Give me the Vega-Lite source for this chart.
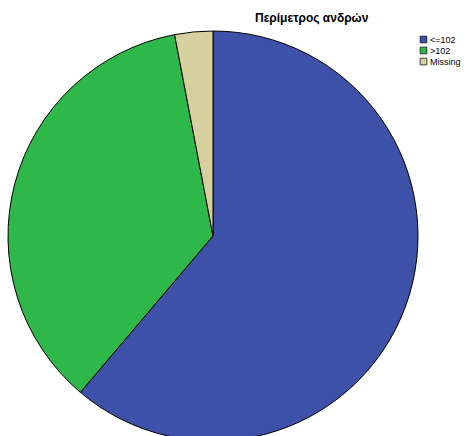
{
  "$schema": "https://vega.github.io/schema/vega-lite/v6.json",
  "autosize": "none",
  "padding": {"top": 30, "left": 0, "right": 38, "bottom": 0},
  "width": 426,
  "height": 412,
  "background": "white",
  "title": {
    "text": "Περίμετρος ανδρών",
    "anchor": "start",
    "frame": "group",
    "dx": 255,
    "offset": 4,
    "font": "Liberation Sans",
    "fontSize": 12,
    "fontWeight": "bold",
    "color": "#000000"
  },
  "data": {
    "values": [
      {"category": "<=102", "percent": 61.2, "order": 1},
      {"category": ">102", "percent": 35.8, "order": 2},
      {"category": "Missing", "percent": 3.0, "order": 3}
    ]
  },
  "mark": {"type": "arc", "radius": 205, "stroke": "#000000", "strokeWidth": 1},
  "encoding": {
    "theta": {"field": "percent", "type": "quantitative", "stack": true},
    "order": {"field": "order", "type": "quantitative"},
    "color": {
      "field": "category",
      "type": "nominal",
      "sort": ["<=102", ">102", "Missing"],
      "scale": {"domain": ["<=102", ">102", "Missing"], "range": ["#3E51A8", "#2EB84A", "#D6CF9E"]},
      "legend": {
        "title": null,
        "orient": "none",
        "legendX": 419,
        "legendY": 5,
        "symbolType": "square",
        "symbolSize": 45,
        "symbolStrokeColor": "#000000",
        "symbolStrokeWidth": 0.7,
        "labelFont": "Liberation Sans",
        "labelFontSize": 9,
        "labelColor": "#000000",
        "labelOffset": 2,
        "rowPadding": 0
      }
    }
  },
  "config": {"view": {"stroke": null}}
}
